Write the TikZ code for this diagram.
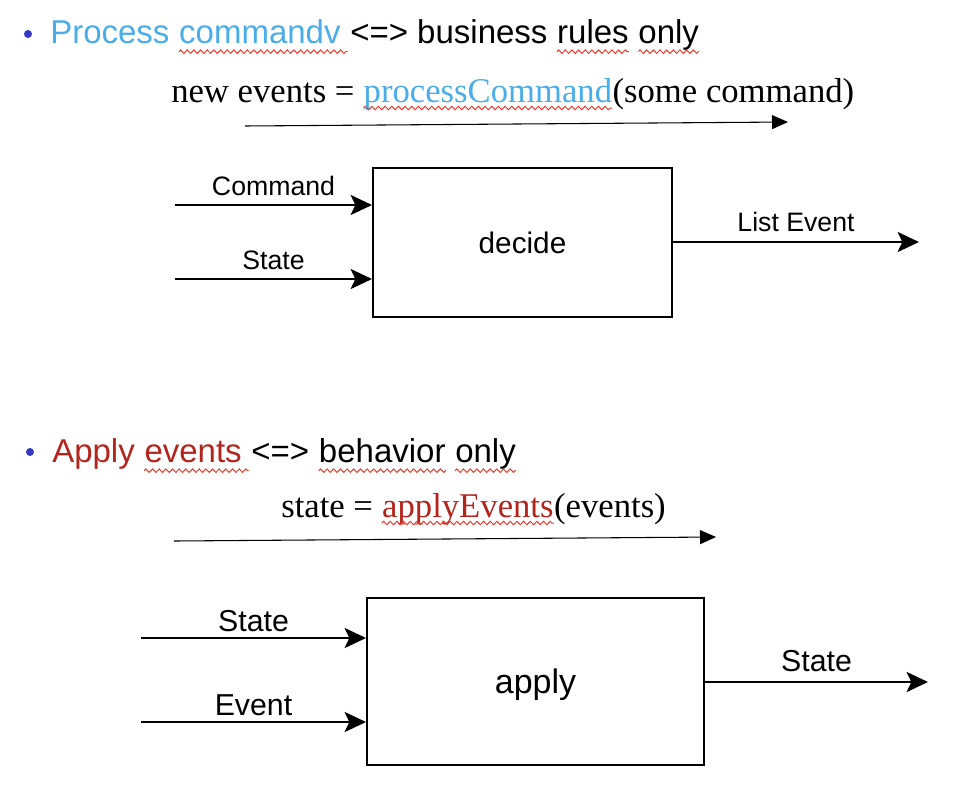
\documentclass[tikz,border=0pt]{standalone}
\usepackage{fontspec}
\setmainfont{Liberation Serif}
\setsansfont{Liberation Sans}
\usetikzlibrary{arrows.meta, decorations.pathmorphing}
\definecolor{cmdblue}{HTML}{4AADE9}
\definecolor{evtred}{HTML}{B3241C}
\definecolor{dotblue}{HTML}{3438C4}
\definecolor{spellred}{HTML}{EC3B2F}
\tikzset{
bullet/.style={circle, fill=dotblue, inner sep=0pt, minimum size=6pt},
headline/.style={anchor=base west, inner sep=0pt,
	font=\sffamily\fontsize{24.75}{30}\selectfont},
formula/.style={anchor=base west, inner sep=0pt, font=\fontsize{26}{31}\selectfont},
squiggle/.style={spellred, line width=0.75pt, decorate,
	decoration={zigzag, segment length=5pt, amplitude=1.3pt}},
timeline/.style={line width=0.8pt, -{Triangle[length=12pt, width=10.5pt]}},
funcbox/.style={draw, line width=1.5pt},
flow/.style={line width=2pt, -{Stealth[length=16pt, width=15pt, inset=3.5pt]}},
flowlabel/.style={above=6pt, inner sep=0pt}
}

\begin{document}
\begin{tikzpicture}[x=0.75pt, y=-0.75pt]
	\useasboundingbox (0,0) rectangle (960,786);
	\node[bullet] (dot1) at (28,34) {};
	\node[headline, text=cmdblue] (proc) at (50,43) {Process\ \null};
	\node[headline, text=cmdblue] (cmdv) at (proc.base east) {commandv};
	\node[headline] (biz) at (cmdv.base east) {\ <=> business\ \null};
	\node[headline] (rules) at (biz.base east) {rules};
	\node[headline] (only1) at (rules.base east) {\ only};
	\draw[squiggle] ([yshift=-6.5pt]cmdv.base west) -- ([yshift=-6.5pt,xshift=5pt]cmdv.base east);
	\draw[squiggle] ([yshift=-6.5pt]rules.base west) -- ([yshift=-6.5pt]rules.base east);
	\draw[squiggle] ([yshift=-6.5pt,xshift=7pt]only1.base west) -- ([yshift=-6.5pt]only1.base east);

	\node[formula] (newev) at (171,102) {new events =\ \null};
	\node[formula, text=cmdblue] (pcmd) at (newev.base east) {processCommand};
	\node[formula] (arg1) at (pcmd.base east) {(some command)};
	\draw[squiggle] ([yshift=-4.5pt]pcmd.base west) -- ([yshift=-4.5pt]pcmd.base east);
	\coordinate (t1start) at (245,126);
	\coordinate (t1end) at (788,122);
	\draw[timeline] (t1start) -- (t1end);

	\node[funcbox, minimum width=224.25pt, minimum height=111.75pt,
		font=\sffamily\fontsize{22.3}{26}\selectfont] (decide) at (522.5,242.5) {decide};
	\coordinate (cmdin) at (175,205);
	\coordinate (statein) at (175,279);
	\coordinate (eventsout) at (919,242);
	\draw[flow] (cmdin) -- node[flowlabel, font=\sffamily\fontsize{20}{24}\selectfont] (cmdlbl) {Command} (decide.west |- cmdin);
	\draw[flow] (statein) -- node[flowlabel, font=\sffamily\fontsize{20}{24}\selectfont] (statelbl) {State} (decide.west |- statein);
	\draw[flow] (decide.east |- eventsout) -- node[flowlabel, yshift=1pt, font=\sffamily\fontsize{20}{24}\selectfont] (listlbl) {List Event} (eventsout);

	\node[bullet] (dot2) at (30,452) {};
	\node[headline, text=evtred] (apl) at (52,462) {Apply\ \null};
	\node[headline, text=evtred] (events) at (apl.base east) {events};
	\node[headline] (iff) at (events.base east) {\ <=>\ \null};
	\node[headline] (behav) at (iff.base east) {behavior};
	\node[headline] (only2) at (behav.base east) {\ only};
	\draw[squiggle] ([yshift=-6.5pt]events.base west) -- ([yshift=-6.5pt,xshift=5pt]events.base east);
	\draw[squiggle] ([yshift=-6.5pt]behav.base west) -- ([yshift=-6.5pt]behav.base east);
	\draw[squiggle] ([yshift=-6.5pt,xshift=7pt]only2.base west) -- ([yshift=-6.5pt]only2.base east);

	\node[formula] (stateeq) at (281,517) {state =\ \null};
	\node[formula, text=evtred] (applyev) at (stateeq.base east) {applyEvents};
	\node[formula] (arg2) at (applyev.base east) {(events)};
	\draw[squiggle] ([yshift=-4.5pt]applyev.base west) -- ([yshift=-4.5pt]applyev.base east);
	\coordinate (t2start) at (174,541);
	\coordinate (t2end) at (716,537);
	\draw[timeline] (t2start) -- (t2end);

	\node[funcbox, minimum width=252.75pt, minimum height=125.25pt, text depth=0pt,
		font=\sffamily\fontsize{25.5}{30}\selectfont] (apply) at (535.5,681.5) {apply};
	\coordinate (oldin) at (141,638);
	\coordinate (eventin) at (141,722);
	\coordinate (newout) at (928,682);
	\draw[flow] (oldin) -- node[flowlabel, yshift=-2pt, font=\sffamily\fontsize{22.7}{27}\selectfont] (oldlbl) {State} (apply.west |- oldin);
	\draw[flow] (eventin) -- node[flowlabel, yshift=-2pt, font=\sffamily\fontsize{22.7}{27}\selectfont] (eventlbl) {Event} (apply.west |- eventin);
	\draw[flow] (apply.east |- newout) -- node[flowlabel, yshift=1pt, font=\sffamily\fontsize{22.7}{27}\selectfont] (newlbl) {State} (newout);
\end{tikzpicture}
\end{document}
